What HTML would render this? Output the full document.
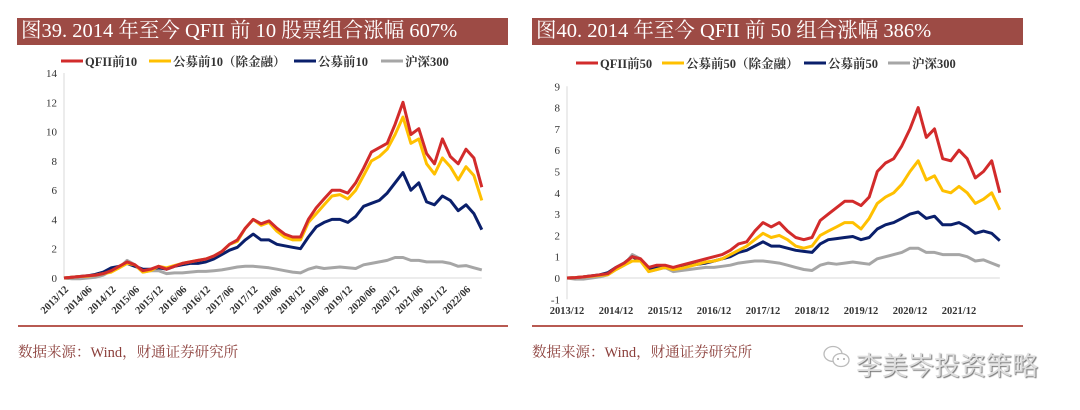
<!DOCTYPE html>
<html><head><meta charset="utf-8"><style>
body{margin:0;width:1080px;height:410px;background:#fff;overflow:hidden;font-family:"Liberation Serif","Noto Serif CJK SC",serif;}
.bar{position:absolute;top:18px;height:27px;background:#9d4b45;color:#fff;font-size:20.5px;line-height:27px;padding-left:4px;box-sizing:border-box;white-space:nowrap;}
.rule{position:absolute;top:325px;height:2px;background:#b85a52;}
.src{position:absolute;top:341px;font-size:14.5px;color:#8b3e3a;}
svg{position:absolute;left:0;top:0;}
</style></head><body>
<div class="bar" style="left:17px;width:491px">图39. 2014 年至今 QFII 前 10 股票组合涨幅 607%</div>
<div class="bar" style="left:532px;width:491px">图40. 2014 年至今 QFII 前 50 组合涨幅 386%</div>
<div class="rule" style="left:18px;width:490px"></div>
<div class="rule" style="left:532px;width:491px"></div>
<div class="src" style="left:18px">数据来源：Wind，财通证券研究所</div>
<div class="src" style="left:532px">数据来源：Wind，财通证券研究所</div>
<div style="position:absolute;left:822px;top:344px;width:30px;height:26px">
<svg width="30" height="26"><ellipse cx="11" cy="10" rx="9" ry="7.5" fill="none" stroke="#bbb" stroke-width="1.3"/><ellipse cx="19" cy="16" rx="8" ry="6.5" fill="#fff" stroke="#bbb" stroke-width="1.3"/><circle cx="16" cy="15" r="1" fill="#aaa"/><circle cx="22" cy="15" r="1" fill="#aaa"/></svg></div>
<div style="position:absolute;left:856px;top:346px;font-family:'Liberation Sans','Noto Sans CJK SC',sans-serif;font-size:26px;color:#ddd;text-shadow:1px 1px 1px #777;letter-spacing:0px">李美岑投资策略</div>
<svg id="chart" width="1080" height="410"></svg>
<script>
const leftTicks=["2013/12","2014/06","2014/12","2015/06","2015/12","2016/06","2016/12","2017/06","2017/12","2018/06","2018/12","2019/06","2019/12","2020/06","2020/12","2021/06","2021/12","2022/06"];
const rightTicks=["2013/12","2014/12","2015/12","2016/12","2017/12","2018/12","2019/12","2020/12","2021/12"];
const leftY=[0,2,4,6,8,10,12,14];
const rightY=[-1,0,1,2,3,4,5,6,7,8,9];
const qfii10=[0,0.05,0.1,0.15,0.2,0.3,0.5,0.8,1.1,0.9,0.5,0.6,0.8,0.6,0.8,1.0,1.1,1.2,1.3,1.5,1.8,2.3,2.6,3.4,4.0,3.7,3.9,3.4,3.0,2.8,2.8,4.0,4.8,5.4,6.0,6.0,5.8,6.5,7.5,8.6,8.9,9.2,10.5,12.0,9.8,10.2,8.5,7.8,9.5,8.3,7.8,8.8,8.2,6.2];
const fund10ex=[0,0.05,0.1,0.12,0.2,0.3,0.4,0.7,1.0,0.9,0.4,0.5,0.8,0.7,0.85,1.0,1.1,1.2,1.3,1.5,1.8,2.3,2.5,3.4,4.0,3.6,3.8,3.2,2.8,2.6,2.6,3.8,4.4,5.0,5.6,5.7,5.4,6.0,7.0,8.0,8.3,8.8,9.8,11.0,9.2,9.5,7.8,7.1,8.2,7.6,6.7,7.6,7.0,5.3];
const fund10=[0,0.05,0.1,0.15,0.25,0.4,0.7,0.8,1.0,0.8,0.6,0.6,0.7,0.6,0.8,0.9,1.0,1.0,1.1,1.3,1.6,1.9,2.1,2.6,3.0,2.6,2.6,2.3,2.2,2.1,2.0,2.8,3.5,3.8,4.0,4.0,3.8,4.2,4.9,5.1,5.3,5.8,6.5,7.2,6.0,6.5,5.2,5.0,5.6,5.3,4.6,5.0,4.4,3.3];
const hs300a=[0,-0.05,-0.05,0,0.05,0.2,0.5,0.7,1.2,0.9,0.4,0.5,0.5,0.3,0.35,0.35,0.4,0.45,0.45,0.5,0.55,0.65,0.75,0.8,0.8,0.75,0.7,0.6,0.5,0.4,0.35,0.6,0.75,0.65,0.7,0.75,0.7,0.65,0.9,1.0,1.1,1.2,1.4,1.4,1.2,1.2,1.1,1.1,1.1,1.0,0.8,0.85,0.7,0.55];
const qfii50=[0,0.02,0.05,0.1,0.15,0.2,0.5,0.7,1.0,0.9,0.5,0.6,0.6,0.5,0.6,0.7,0.8,0.9,1.0,1.1,1.3,1.6,1.7,2.2,2.6,2.4,2.6,2.2,1.9,1.8,1.9,2.7,3.0,3.3,3.6,3.6,3.4,3.8,5.0,5.4,5.6,6.2,7.0,8.0,6.6,7.0,5.6,5.5,6.0,5.6,4.7,5.0,5.5,4.0];
const fund50ex=[0,0.02,0.05,0.08,0.12,0.15,0.4,0.6,0.8,0.8,0.3,0.4,0.5,0.4,0.45,0.55,0.65,0.75,0.8,0.9,1.1,1.3,1.5,1.8,2.1,1.9,2.0,1.8,1.5,1.4,1.5,2.0,2.2,2.4,2.6,2.6,2.3,2.8,3.5,3.8,4.0,4.4,5.0,5.5,4.6,4.8,4.1,4.0,4.3,4.0,3.5,3.7,4.0,3.2];
const fund50=[0,0.02,0.05,0.1,0.15,0.25,0.5,0.7,1.0,0.8,0.45,0.5,0.55,0.45,0.5,0.6,0.65,0.7,0.8,0.9,1.0,1.2,1.3,1.5,1.7,1.5,1.5,1.4,1.3,1.25,1.2,1.6,1.8,1.85,1.9,1.95,1.8,1.9,2.3,2.5,2.6,2.8,3.0,3.1,2.8,2.9,2.5,2.5,2.6,2.4,2.1,2.2,2.1,1.75];
const hs300b=[0,-0.05,-0.05,0,0.05,0.15,0.4,0.6,1.1,0.9,0.3,0.4,0.5,0.3,0.35,0.4,0.45,0.5,0.5,0.55,0.6,0.7,0.75,0.8,0.8,0.75,0.7,0.6,0.5,0.4,0.35,0.6,0.7,0.65,0.7,0.75,0.7,0.65,0.9,1.0,1.1,1.2,1.4,1.4,1.2,1.2,1.1,1.1,1.1,1.0,0.8,0.85,0.7,0.55];
const leftNames=["QFII前10","公募前10（除金融）","公募前10","沪深300"];
const rightNames=["QFII前50","公募前50（除金融）","公募前50","沪深300"];
const colors=["#d22b2b","#ffc000","#0a1f6b","#a6a6a6"];
const NS="http://www.w3.org/2000/svg";
const svg=document.getElementById('chart');
function mk(tag,attrs,parent){const e=document.createElementNS(NS,tag);for(const k in attrs)e.setAttribute(k,attrs[k]);(parent||svg).appendChild(e);return e;}
function draw(cfg){
  const g=mk('g',{});
  
  
  const x=m=>cfg.x0+m/12*cfg.pxYear;
  const y=v=>cfg.y0-v*cfg.pxUnit;
  const ax=mk('line',{x1:cfg.x0,x2:cfg.x0,y1:y(cfg.yt[cfg.yt.length-1]),y2:y(cfg.yt[0]),stroke:'#d9d9d9','stroke-width':1},g);
  
  
  const zl=mk('line',{x1:cfg.x0,x2:x(106),y1:y(0),y2:y(0),stroke:'#d9d9d9','stroke-width':1},g);
  
  
  cfg.yt.forEach(v=>{const t=mk('text',{x:cfg.x0-7,y:y(v)+4,'text-anchor':'end','font-size':11,fill:'#333'},g);t.textContent=v;
    
    });
  cfg.xt.forEach((s,i)=>{const tx=x(i*cfg.tickMonths);let t;
    if(cfg.rot){t=mk('text',{x:tx+5,y:y(0)+12,'text-anchor':'end','font-size':10.5,'font-weight':'bold',fill:'#333',transform:`rotate(-45 ${tx+5} ${y(0)+12})`},g);}
    else{t=mk('text',{x:tx,y:cfg.xy,'text-anchor':'middle','font-size':10.5,'font-weight':'bold',fill:'#333'},g);}
    t.textContent=s;
    
    });
  [3,2,1,0].forEach(k=>{const pts=cfg.series[k].map((v,i)=>x(i*2).toFixed(1)+','+y(v).toFixed(1)).join(' ');
    const p=mk('polyline',{points:pts,fill:'none',stroke:colors[k],'stroke-width':3,'stroke-linejoin':'round'},g);
    
    });
  cfg.legend.forEach((lx,k)=>{const l=mk('line',{x1:lx,x2:lx+22,y1:cfg.ly,y2:cfg.ly,stroke:colors[k],'stroke-width':3},g);
    
    
    const t=mk('text',{x:lx+24,y:cfg.ly+5,'font-size':12.5,'font-weight':'bold',fill:'#333'},g);t.textContent=cfg.names[k];
    
    });
}
draw({id:'chart-39',x0:64,pxYear:47.3,y0:278,pxUnit:14.64,yt:leftY,xt:leftTicks,tickMonths:6,rot:true,series:[qfii10,fund10ex,fund10,hs300a],legend:[61,149,294,381],names:leftNames,ly:61});
draw({id:'chart-40',x0:567,pxYear:49,y0:278,pxUnit:21.3,yt:rightY,xt:rightTicks,tickMonths:12,rot:false,xy:314,series:[qfii50,fund50ex,fund50,hs300b],legend:[576,662,804,888],names:rightNames,ly:63});
</script>
</body></html>
